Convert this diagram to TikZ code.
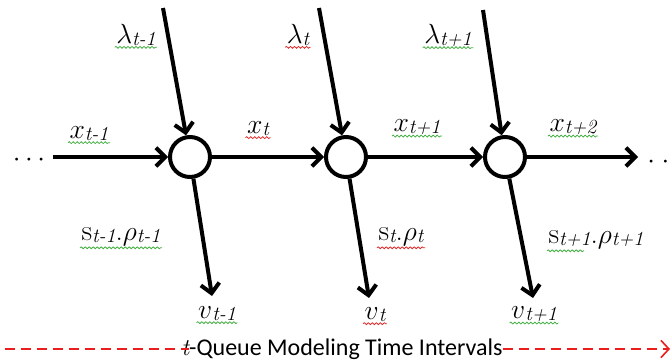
\documentclass[tikz,border=0pt]{standalone}
\usepackage{fontspec}
\newfontfamily\capfont{Carlito}
\usetikzlibrary{arrows.meta, decorations.pathmorphing}
\usepackage{xcolor}
\definecolor{spellGreen}{RGB}{70, 175, 70}
\definecolor{spellRed}{RGB}{225, 45, 45}
\definecolor{tlRed}{RGB}{235, 30, 30}

% symbol with a large, slightly lowered index
\newcommand{\qsym}[2]{{\fontsize{22}{24}\selectfont #1}\raisebox{-1.5pt}{\fontsize{15}{17}\selectfont\itshape #2}}

\begin{document}
\begin{tikzpicture}[
    x=0.75pt, y=-0.75pt,
    >={Straight Barb[length=7pt,width=14pt]},
    queue/.style={
        draw,
        circle,
        line width=3pt,
        minimum size=30pt,
        inner sep=0pt,
        fill=white
    },
    flow/.style={->, line width=3pt},
    lbl/.style={inner sep=1pt},
    squiggle/.style={draw=#1, line width=0.6pt, decorate,
        decoration={snake, amplitude=0.7pt, segment length=3pt}},
    timeline/.style={color=tlRed, line width=1.2pt, dash pattern=on 7.5pt off 4.5pt}
]
\useasboundingbox (0,0) rectangle (672,364);

% Queues
\node[queue] (q1) at (190,157) {};
\node[queue] (q2) at (346,157) {};
\node[queue] (q3) at (505,157) {};

% Free ends of the connectors
\coordinate (in1) at (163,8);
\coordinate (in2) at (319,8);
\coordinate (in3) at (483,10);
\coordinate (out1) at (212,296);
\coordinate (out2) at (369,298);
\coordinate (out3) at (533,298);
\coordinate (xstart) at (53,157);
\coordinate (xend) at (638,157);

% Arrivals
\draw[flow] (in1) -- (q1);
\draw[flow] (in2) -- (q2);
\draw[flow] (in3) -- (q3);

% Departures
\draw[flow] (q1) -- (out1);
\draw[flow] (q2) -- (out2);
\draw[flow] (q3) -- (out3);

% Queue lengths carried forward
\draw[flow] (xstart) -- (q1);
\draw[flow] (q1) -- (q2);
\draw[flow] (q2) -- (q3);
\draw[flow] (q3) -- (xend);

\node (dotsL) at (29,160) {\fontsize{20}{22}\selectfont$\cdots$};
\node[anchor=west, inner sep=0pt] (dotsR) at (647,162) {\fontsize{20}{22}\selectfont$\cdot$\hspace{5pt}$\cdot$};

% Labels
\node[lbl] (lam1) at (136,35) {\qsym{$\lambda$}{t-1}};
\node[lbl] (lam2) at (298,35) {\qsym{$\lambda$}{t}};
\node[lbl] (lam3) at (448,35) {\qsym{$\lambda$}{t+1}};

\node[lbl] (x0) at (89,134) {\qsym{$x$}{t-1}};
\node[lbl] (x1) at (258,129) {\qsym{$x$}{t}};
\node[lbl] (x2) at (417,127) {\qsym{$x$}{t+1}};
\node[lbl] (x3) at (573,127) {\qsym{$x$}{t+2}};

\node[lbl] (sr1) at (121,237) {\qsym{s}{t-1}\qsym{.$\rho$}{t-1}};
\node[lbl] (sr2) at (401,237) {\qsym{s}{t}\qsym{.$\rho$}{t}};
\node[lbl] (sr3) at (596,240) {\qsym{s}{t+1}\qsym{.$\rho$}{t+1}};

\node[lbl] (v1) at (217,314) {\qsym{$v$}{t-1}};
\node[lbl] (v2) at (375,315) {\qsym{$v$}{t}};
\node[lbl] (v3) at (534,314) {\qsym{$v$}{t+1}};

% Spell-check underlines
\draw[squiggle=spellGreen] (lam1.south west) -- (lam1.south east);
\draw[squiggle=spellRed] (lam2.south west) -- (lam2.south east);
\draw[squiggle=spellGreen] (lam3.south west) -- (lam3.south east);
\draw[squiggle=spellGreen] (x0.south west) -- (x0.south east);
\draw[squiggle=spellRed] (x1.south west) -- (x1.south east);
\draw[squiggle=spellGreen] (x2.south west) -- (x2.south east);
\draw[squiggle=spellGreen] (x3.south west) -- (x3.south east);
\draw[squiggle=spellGreen] (sr1.south west) -- (sr1.south east);
\draw[squiggle=spellRed] (sr2.south west) -- (sr2.south east);
\draw[squiggle=spellGreen] (sr3.south west) -- ++(37,0);
\draw[squiggle=spellGreen] (v1.south west) -- (v1.south east);
\draw[squiggle=spellRed] (v2.south west) -- (v2.south east);
\draw[squiggle=spellGreen] (v3.south west) -- (v3.south east);

% Time axis
\node[inner sep=0pt, font=\capfont\fontsize{18}{20}\selectfont] (tline) at (342,349)
    {{\rmfamily\itshape t}-Queue Modeling Time Intervals};
\coordinate (tl0) at (5,349);
\coordinate (tl1) at (670,349);
\draw[timeline] (tl0) -- ([xshift=6pt]tline.west);
\draw[timeline, -{Straight Barb[length=6pt,width=13pt]}] (tline.east) -- (tl1);

\end{tikzpicture}
\end{document}
